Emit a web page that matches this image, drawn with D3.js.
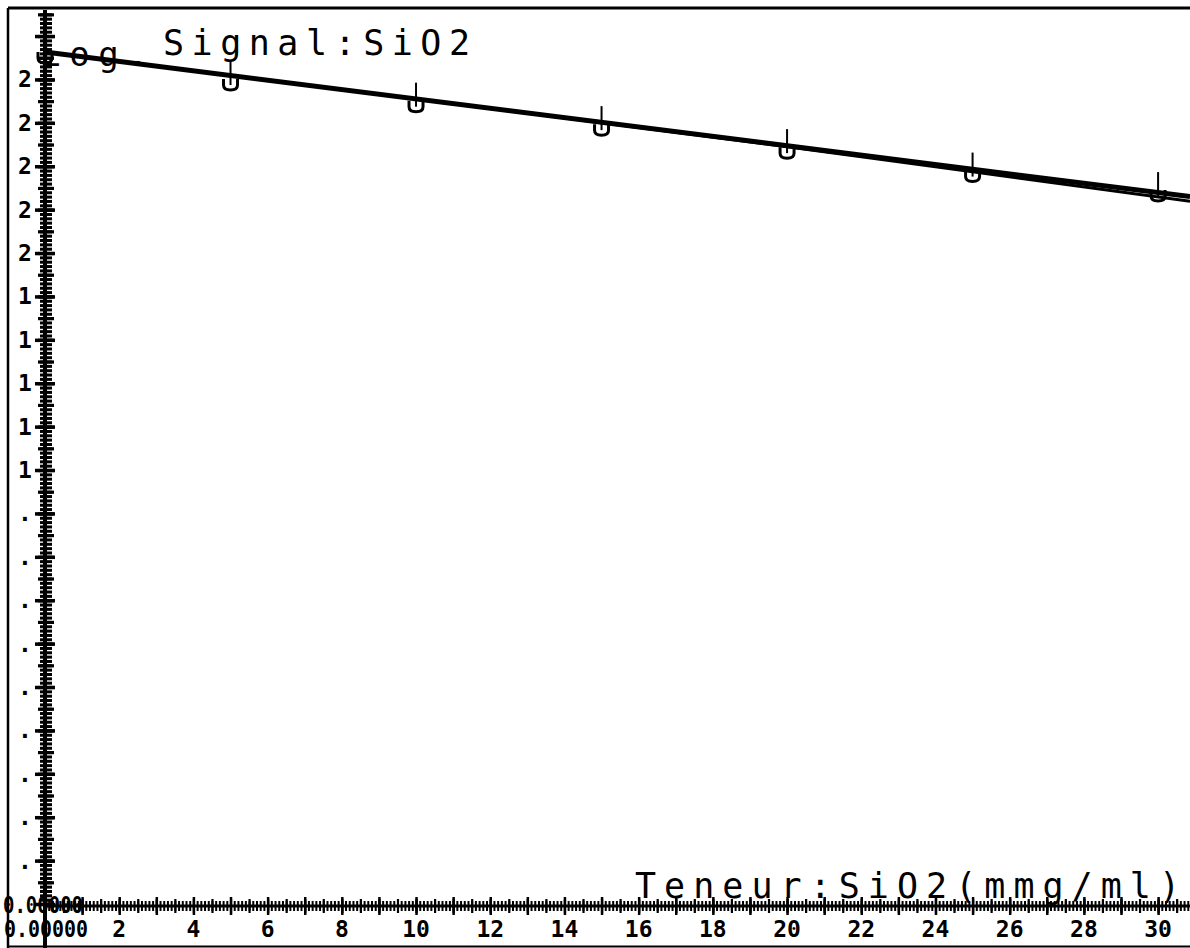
<!DOCTYPE html>
<html>
<head>
<meta charset="utf-8">
<script src="https://cdn.jsdelivr.net/npm/d3@7"></script>
<style>
  html, body { margin: 0; padding: 0; background: #fff; }
  svg { display: block; }
  text { font-family: "DejaVu Sans Mono", monospace; fill: #000; }
</style>
</head>
<body>
<svg id="chart" width="1190" height="948"></svg>
<script>
// Concentration of the standards (mmg/ml) and measured log signal
const teneur = [0, 5, 10, 15, 20, 25, 30];
const logSignal = [1.963, 1.901, 1.851, 1.797, 1.744, 1.690, 1.645];

// Calibration line (straight fit) and second curve
const fitX = [0, 30.86];
const fitY = [1.963, 1.630];
const curveX = [0, 10, 20, 25, 30.86];
const curveY = [1.963, 1.855, 1.745, 1.687, 1.619];

// Tick labels as printed by the plotter (truncated)
const xTickValues = [0, 2, 4, 6, 8, 10, 12, 14, 16, 18, 20, 22, 24, 26, 28, 30];
const xTickLabels = ["0.00000", "2", "4", "6", "8", "10", "12", "14", "16", "18", "20", "22", "24", "26", "28", "30"];
const yTickValues = [0.1, 0.2, 0.3, 0.4, 0.5, 0.6, 0.7, 0.8, 0.9, 1.0, 1.1, 1.2, 1.3, 1.4, 1.5, 1.6, 1.7, 1.8, 1.9];
const yTickLabels = [".", ".", ".", ".", ".", ".", ".", ".", ".", "1", "1", "1", "1", "1", "2", "2", "2", "2", "2"];
const yZeroLabel = "0.00000";

const svg = d3.select("#chart");

// Scales
const x = d3.scaleLinear().domain([0, 30.86]).range([45, 1190]);
const y = d3.scaleLinear().domain([0, 2.06]).range([904, 10]);

// Frame of the plotter sheet
svg.append("line").attr("x1", 8).attr("x2", 1190).attr("y1", 8).attr("y2", 8)
    .attr("stroke", "#000").attr("stroke-width", 3);
svg.append("line").attr("x1", 8).attr("x2", 8).attr("y1", 8).attr("y2", 948)
    .attr("stroke", "#000").attr("stroke-width", 2.5);
svg.append("line").attr("x1", 8).attr("x2", 1190).attr("y1", 946.5).attr("y2", 946.5)
    .attr("stroke", "#000").attr("stroke-width", 2);

// Helper: axis whose ticks cross the axis line on both sides
function crossAxis(axisFn, scale, values, half, transform, width) {
    const g = svg.append("g")
        .attr("transform", transform)
        .call(axisFn(scale).tickValues(values).tickSize(half * 2).tickFormat(""));
    g.select(".domain").remove();
    g.selectAll("line").attr("stroke", "#000").attr("stroke-width", width);
    return g;
}

// Y axis: minor every 0.01, medium every 0.05, major every 0.1
const yMinor = d3.range(0, 206).map(i => i / 100);
const yMid = d3.range(0, 42).map(i => i / 20);
const yMajor = d3.range(0, 21).map(i => i / 10);
crossAxis(d3.axisLeft, y, yMinor, 6, "translate(52,0)", 3);
crossAxis(d3.axisLeft, y, yMid, 8, "translate(54,0)", 3.2);
crossAxis(d3.axisLeft, y, yMajor, 10, "translate(55,0)", 3.5);
svg.append("line").attr("x1", 45).attr("x2", 45).attr("y1", 10).attr("y2", 948)
    .attr("stroke", "#000").attr("stroke-width", 4);

// X axis: minor every 0.1, medium every 0.5, major every 1
const xMinor = d3.range(0, 309).map(i => i / 10);
const xMid = d3.range(0, 62).map(i => i / 2);
const xMajor = d3.range(0, 31);
crossAxis(d3.axisTop, x, xMinor, 5, "translate(0,911)", 2);
crossAxis(d3.axisTop, x, xMid, 7, "translate(0,913)", 2.2);
crossAxis(d3.axisTop, x, xMajor, 9, "translate(0,915)", 2.5);
svg.append("line").attr("x1", 45).attr("x2", 1190).attr("y1", 906).attr("y2", 906)
    .attr("stroke", "#000").attr("stroke-width", 3);

// X tick labels (the first one is squeezed into the corner)
svg.append("g").selectAll("text")
    .data(xTickValues)
    .enter()
    .append("text")
    .attr("x", d => d === 0 ? 4 : x(d))
    .attr("y", 937)
    .attr("text-anchor", d => d === 0 ? "start" : "middle")
    .attr("font-size", "23px")
    .attr("font-weight", "bold")
    .attr("textLength", d => d === 0 ? 84 : null)
    .attr("lengthAdjust", "spacingAndGlyphs")
    .text((d, i) => xTickLabels[i]);

// Y tick labels
svg.append("g").selectAll("text")
    .data(yTickValues)
    .enter()
    .append("text")
    .attr("x", 25)
    .attr("y", d => y(d) + 8)
    .attr("text-anchor", "middle")
    .attr("font-size", "23px")
    .attr("font-weight", "bold")
    .text((d, i) => yTickLabels[i]);

svg.append("text")
    .attr("x", 3)
    .attr("y", y(0) + 9)
    .attr("font-size", "23px")
    .attr("font-weight", "bold")
    .attr("textLength", 80)
    .attr("lengthAdjust", "spacingAndGlyphs")
    .text(yZeroLabel);

// Calibration line and second curve
const line = d3.line().x(d => x(d[0])).y(d => y(d[1]));
svg.append("path")
    .datum(d3.zip(fitX, fitY))
    .attr("d", line)
    .attr("fill", "none")
    .attr("stroke", "#000")
    .attr("stroke-width", 5);
svg.append("path")
    .datum(d3.zip(curveX, curveY))
    .attr("d", line)
    .attr("fill", "none")
    .attr("stroke", "#000")
    .attr("stroke-width", 3);

// Data points: cup marker with a small vertical tick
const pts = svg.append("g").selectAll("g")
    .data(d3.zip(teneur, logSignal))
    .enter()
    .append("g")
    .attr("transform", d => `translate(${x(d[0])},${y(d[1])})`);
pts.append("path")
    .attr("d", "M-7,0 V6 Q-7,11 0,11 Q7,11 7,6 V0")
    .attr("fill", "none")
    .attr("stroke", "#000")
    .attr("stroke-width", 3);
pts.append("line")
    .attr("x1", 0).attr("x2", 0)
    .attr("y1", -18).attr("y2", 6)
    .attr("stroke", "#000")
    .attr("stroke-width", 2);

// Titles
svg.append("text")
    .attr("x", 40)
    .attr("y", 66)
    .attr("font-size", "34px")
    .attr("textLength", 108)
    .attr("lengthAdjust", "spacing")
    .text("Log.");
svg.append("text")
    .attr("x", 163)
    .attr("y", 55)
    .attr("font-size", "35px")
    .attr("textLength", 307)
    .attr("lengthAdjust", "spacing")
    .text("Signal:SiO2");

svg.append("text")
    .attr("x", 635)
    .attr("y", 898)
    .attr("font-size", "35px")
    .attr("textLength", 545)
    .attr("lengthAdjust", "spacing")
    .text("Teneur:SiO2(mmg/ml)");
</script>
</body>
</html>
